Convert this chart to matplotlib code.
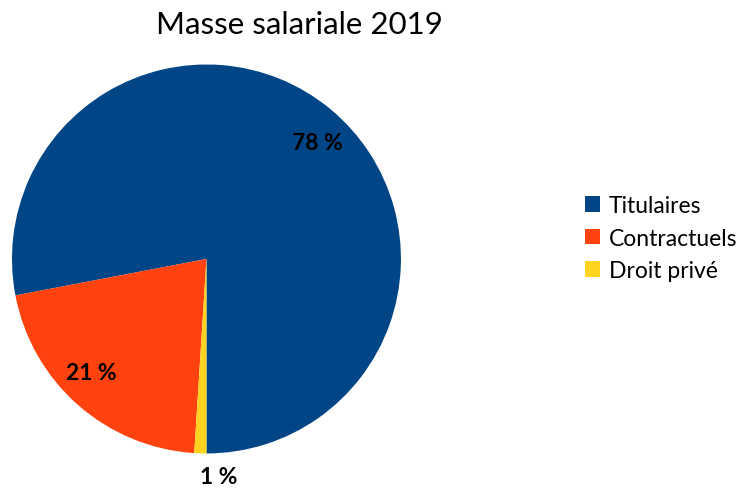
import matplotlib
matplotlib.use("Agg")
import numpy as np
import matplotlib.pyplot as plt
from matplotlib.patches import Patch

categories = ["Titulaires", "Contractuels", "Droit privé"]
shares = [78, 21, 1]
colors = ["#004586", "#ff420e", "#ffd320"]

plt.rcParams['font.family'] = ['Lato', 'DejaVu Sans']

fig = plt.figure(figsize=(7.44, 4.89), dpi=100)
ax = fig.add_axes([0.0161, 0.0706, 0.5228, 0.7955])

wedges, texts, autotexts = ax.pie(
    shares, colors=colors, startangle=270, counterclock=True,
    autopct=lambda p: "%d %%" % round(p), pctdistance=0.83,
    textprops={'fontsize': 16.5, 'fontweight': 'bold', 'color': 'black'})
ax.set_xlim(-1, 1)
ax.set_ylim(-1, 1)
ax.set_aspect('equal')

# nudge the labels to where the original has them
for w, t, r, shift in zip(wedges, autotexts, [0.83, 0.83, 1.12], [-4, -4, 5]):
    mid = np.deg2rad((w.theta1 + w.theta2) / 2 + shift)
    t.set_position((r * np.cos(mid), r * np.sin(mid)))

fig.text(0.403, 0.948, "Masse salariale 2019", ha='center', va='center', fontsize=22.5)

handles = [Patch(facecolor=c, edgecolor='none') for c in colors]
fig.legend(handles, categories, loc='center left', bbox_to_anchor=(0.786, 0.511),
           frameon=False, fontsize=16.5, handlelength=0.68, handleheight=0.68,
           handletextpad=0.38, labelspacing=0.5, borderaxespad=0, borderpad=0)

fig.savefig("out.png", dpi=100)
